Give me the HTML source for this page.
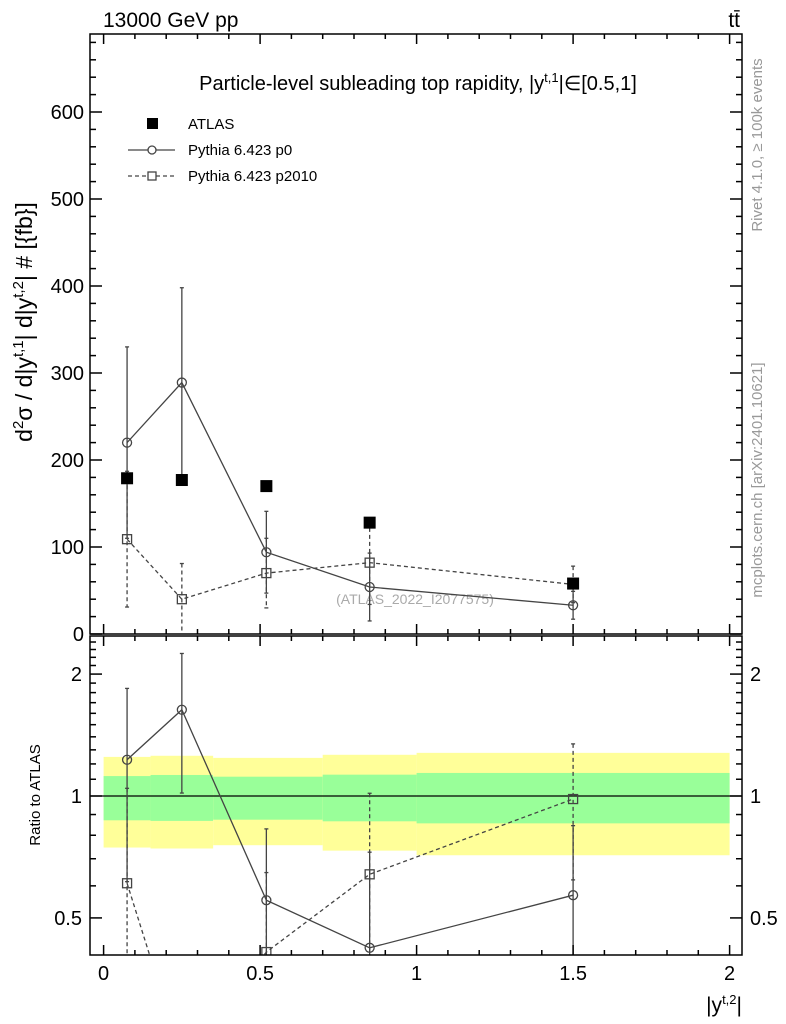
<!DOCTYPE html>
<html><head><meta charset="utf-8"><style>
html,body{margin:0;padding:0;background:#fff;overflow:hidden;width:786px;height:1024px;}
svg{display:block;font-family:"Liberation Sans",Arial,sans-serif;}
</style></head><body>
<svg id="chart" width="786" height="1024" viewBox="0 0 786 1024">
<text x="103" y="27" font-size="21">13000 GeV pp</text>
<text x="740" y="27" font-size="21" text-anchor="end">tt̄</text>
<text x="418" y="90" font-size="20" text-anchor="middle">Particle-level subleading top rapidity, |y<tspan dy="-8" font-size="13">t,1</tspan><tspan dy="8">|∈[0.5,1]</tspan></text>
<text transform="translate(762,145) rotate(-90)" font-size="15" fill="#999" text-anchor="middle">Rivet 4.1.0, ≥ 100k events</text>
<text transform="translate(762,480) rotate(-90)" font-size="15" fill="#999" text-anchor="middle">mcplots.cern.ch [arXiv:2401.10621]</text>
<text transform="translate(32,322) rotate(-90)" font-size="23" text-anchor="middle">d<tspan dy="-9" font-size="15">2</tspan><tspan dy="9">σ / d|y</tspan><tspan dy="-9" font-size="15">t,1</tspan><tspan dy="9">| d|y</tspan><tspan dy="-9" font-size="15">t,2</tspan><tspan dy="9">| # [{fb}]</tspan></text>
<text transform="translate(40,795) rotate(-90)" font-size="15" text-anchor="middle">Ratio to ATLAS</text>
<text x="742" y="1012" font-size="21" text-anchor="end">|y<tspan dy="-8" font-size="13">t,2</tspan><tspan dy="8">|</tspan></text>
<text x="415" y="604" font-size="14" fill="#aaa" text-anchor="middle">(ATLAS_2022_I2077575)</text>
<g id="legend">
<rect x="147" y="118" width="11" height="11" fill="#000"/>
<text x="188" y="129" font-size="15">ATLAS</text>
<line x1="128" y1="150" x2="175" y2="150" stroke="#444" stroke-width="1.3"/>
<circle cx="152" cy="150" r="4" fill="#fff" stroke="#444" stroke-width="1.3"/>
<text x="188" y="155" font-size="15">Pythia 6.423 p0</text>
<line x1="128" y1="176" x2="175" y2="176" stroke="#444" stroke-width="1.3" stroke-dasharray="4,3"/>
<rect x="148" y="172" width="8" height="8" fill="#fff" stroke="#444" stroke-width="1.3"/>
<text x="188" y="181" font-size="15">Pythia 6.423 p2010</text>
</g>
</svg>
<script>
const xCenters=[0.075,0.25,0.52,0.85,1.5];
const binEdges=[0,0.15,0.35,0.7,1.0,2.0];
const atlasVals=[179,177,170,128,58];
const atlasErr=[3,3,2,3,3];
const p0Vals=[220,289,94,54,33];
const p0Err=[110,109,47,39,16];
const p2010Vals=[109,40,70,82,57];
const p2010Err=[78,41,40,48,21];
const bandInnerHi=[1.12,1.127,1.116,1.129,1.14];
const bandInnerLo=[0.871,0.868,0.874,0.866,0.856];
const bandOuterHi=[1.249,1.257,1.242,1.264,1.278];
const bandOuterLo=[0.746,0.742,0.756,0.733,0.714];
const mainYTicks=[0,100,200,300,400,500,600];
const ratioYTicks=[0.5,1,2];
const xTicks=[0,0.5,1,1.5,2];

const NS="http://www.w3.org/2000/svg";
const svg=document.getElementById('chart');
const L=90,R=742,T1=34,B1=634,T2=636,B2=955;
const X=v=>103.6+v*313;
const Y=v=>634-v*0.87;
const lr=Math.log10;
const YR=v=>796-lr(v)*405;
const RMIN=0.403;
function el(tag,attrs,parent){const e=document.createElementNS(NS,tag);for(const k in attrs)e.setAttribute(k,attrs[k]);(parent||svg).appendChild(e);return e;}
const clip1=el('clipPath',{id:'c1'});el('rect',{x:L,y:T1,width:R-L,height:B1-T1},clip1);
const clip2=el('clipPath',{id:'c2'});el('rect',{x:L,y:T2,width:R-L,height:B2-T2},clip2);

const gB=el('g',{'clip-path':'url(#c2)'});


for(let i=0;i<xCenters.length;i++){
  const x0=X(binEdges[i]),x1=X(binEdges[i+1]);
  const yb=el('rect',{x:x0,y:YR(bandOuterHi[i]),width:x1-x0,height:YR(bandOuterLo[i])-YR(bandOuterHi[i]),fill:'#ffff99'},gB);
  
  
  const gb=el('rect',{x:x0,y:YR(bandInnerHi[i]),width:x1-x0,height:YR(bandInnerLo[i])-YR(bandInnerHi[i]),fill:'#99ff99'},gB);
  
  
}
const one=el('line',{x1:L,x2:R,y1:YR(1),y2:YR(1),stroke:'#000','stroke-width':1.3});



function series(vals,errs,ref,dash,marker,name,panel){
  const g=el('g',{'clip-path':panel==1?'url(#c1)':'url(#c2)'});
  
  
  const fy=panel==1?(v=>Y(v)):(v=>YR(Math.max(v,1e-3)));
  const val=i=>panel==1?vals[i]:vals[i]/ref[i];
  const hi=i=>panel==1?vals[i]+errs[i]:(vals[i]+errs[i])/ref[i];
  const lo=i=>panel==1?vals[i]-errs[i]:(vals[i]-errs[i])/ref[i];
  if(marker!=='atlas'){
    let d='';for(let i=0;i<vals.length;i++)d+=(i?'L':'M')+X(xCenters[i])+','+fy(val(i));
    const p=el('path',{d:d,fill:'none',stroke:'#444','stroke-width':1.3,'stroke-dasharray':dash?'4,3':'none'},g);
    
    
  }
  for(let i=0;i<vals.length;i++){
    if(panel==2 && val(i)<RMIN) continue;
    const x=X(xCenters[i]);
    const c=marker==='atlas'?'#000':'#444';
    el('line',{x1:x,x2:x,y1:fy(hi(i)),y2:fy(lo(i)),stroke:c,'stroke-width':1.3,'stroke-dasharray':dash?'4,3':'none'},g);
    el('line',{x1:x-2,x2:x+2,y1:fy(hi(i)),y2:fy(hi(i)),stroke:c,'stroke-width':1.3},g);
    el('line',{x1:x-2,x2:x+2,y1:fy(lo(i)),y2:fy(lo(i)),stroke:c,'stroke-width':1.3},g);
    let m;
    if(marker==='atlas')m=el('rect',{x:x-6,y:fy(val(i))-6,width:12,height:12,fill:'#000'},g);
    else if(marker==='circle')m=el('circle',{cx:x,cy:fy(val(i)),r:4.5,fill:'none',stroke:'#444','stroke-width':1.3},g);
    else m=el('rect',{x:x-4.5,y:fy(val(i))-4.5,width:9,height:9,fill:'none',stroke:'#444','stroke-width':1.3},g);
    
    
  }
}
series(p2010Vals,p2010Err,atlasVals,true,'square','p2010-series',1);
series(p0Vals,p0Err,atlasVals,false,'circle','p0-series',1);
series(atlasVals,atlasErr,atlasVals,false,'atlas','atlas-series',1);
series(p2010Vals,p2010Err,atlasVals,true,'square','p2010-ratio',2);
series(p0Vals,p0Err,atlasVals,false,'circle','p0-ratio',2);

const ax=el('g',{stroke:'#000','stroke-width':1.5,fill:'none'});


el('rect',{x:L,y:T1,width:R-L,height:B1-T1},ax);
el('rect',{x:L,y:T2,width:R-L,height:B2-T2},ax);
for(let k=0;k<=20;k++){const v=k*0.1;const x=X(v);if(x<L||x>R)continue;const maj=k%5==0;const len=maj?10:5;
  [[T1,1],[B1,-1],[T2,1],[B2,-1]].forEach(([y,s])=>el('line',{x1:x,x2:x,y1:y,y2:y+s*len},ax));}
for(let v=0;v<=680;v+=20){const y=Y(v);if(y<T1)continue;const len=v%100==0?12:6;
  el('line',{x1:L,x2:L+len,y1:y,y2:y},ax);el('line',{x1:R,x2:R-len,y1:y,y2:y},ax);}
for(let k=4;k<25;k++){const v=k/10;const y=YR(v);if(y<T2||y>B2)continue;
  const maj=(k==5||k==10||k==20);const len=maj?12:6;
  el('line',{x1:L,x2:L+len,y1:y,y2:y},ax);el('line',{x1:R,x2:R-len,y1:y,y2:y},ax);}
mainYTicks.forEach(v=>{const t=el('text',{x:L-6,y:Y(v)+7,'font-size':20,'text-anchor':'end'});t.textContent=v;
  
  });
ratioYTicks.forEach(v=>{[['end',L-8],['start',R+8]].forEach(([a,x])=>{const t=el('text',{x:x,y:YR(v)+7,'font-size':20,'text-anchor':a});t.textContent=v;
  
  });});
xTicks.forEach(v=>{const t=el('text',{x:X(v),y:980,'font-size':20,'text-anchor':'middle'});t.textContent=v;
  
  });
</script>
</body></html>
